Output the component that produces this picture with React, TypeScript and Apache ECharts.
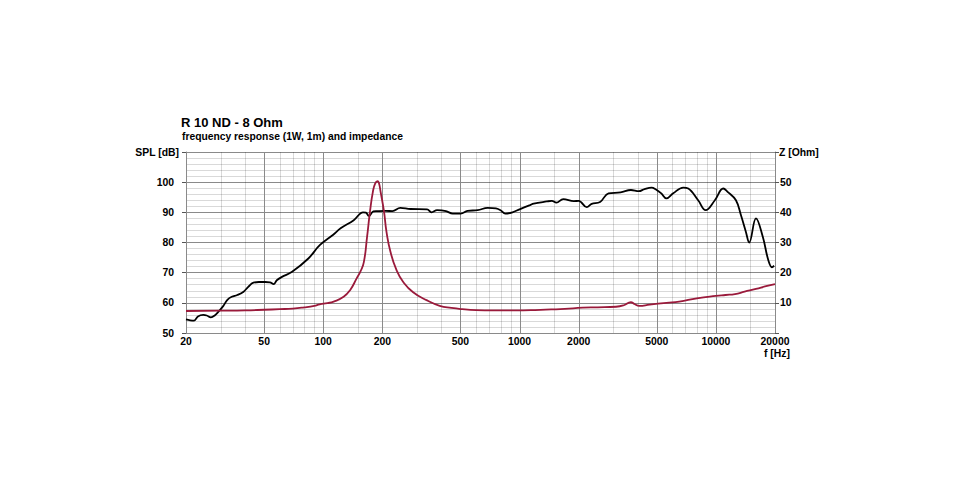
import React, { useEffect, useRef } from 'react';
import * as echarts from 'echarts';

const TITLE = 'R 10 ND - 8 Ohm';
const SUBTITLE = 'frequency response (1W, 1m) and impedance';
const X_NAME = 'f [Hz]';
const SPL_NAME = 'SPL [dB]';
const Z_NAME = 'Z [Ohm]';

// SPL curve (Hz, dB)
const SPL_FREQ = [
  20, 21, 22, 23, 24.5, 25.5, 26.8, 28, 29.2, 31, 32.5, 34.2, 36.5, 39.3, 41.5, 44.1, 47, 50.6, 53.5, 55.9,
  58, 61.6, 69.4, 84, 96, 112, 122.6, 143, 159.5, 165, 171, 180, 188, 208, 225, 247, 278, 338, 356, 380,
  422, 456, 502, 543, 612, 688, 758, 800, 846, 920, 1000, 1130, 1180, 1375, 1460, 1540, 1670, 1890, 2000, 2200,
  2330, 2570, 2840, 3270, 3690, 4050, 4330, 4700, 4950, 5270, 5600, 6060, 6820, 7230, 8120, 8870, 9880, 10900, 11470, 12650,
  13420, 14220, 14780, 16000, 17330, 18480, 19300, 19800,
];
const SPL_DB = [
  54.5, 54.2, 54.1, 55.5, 56.0, 55.8, 55.2, 55.8, 57.0, 59.0, 61.0, 62.0, 62.6, 63.7, 65.3, 66.7, 66.9, 66.9, 66.8, 66.2,
  67.5, 68.6, 70.3, 74.7, 79.1, 82.5, 84.7, 87.4, 90.0, 89.9, 88.8, 90.3, 90.4, 90.5, 90.4, 91.5, 91.1, 91.0, 90.0, 90.7,
  90.4, 89.6, 89.6, 90.5, 90.7, 91.5, 91.3, 90.7, 89.6, 90.0, 91.0, 92.4, 92.9, 93.6, 93.8, 93.2, 94.4, 93.7, 93.8, 91.7,
  92.8, 93.4, 96.3, 96.6, 97.4, 97.0, 97.7, 98.2, 97.6, 96.3, 94.6, 96.3, 98.2, 97.9, 94.0, 90.7, 94.0, 97.9, 96.8, 94.0,
  89.0, 83.5, 80.0, 88.0, 81.9, 74.2, 71.8, 72.3,
];

// Impedance curve (Hz, Ohm)
const IMP_FREQ = [
  20, 30, 40, 50, 60, 70, 80, 90, 96, 105, 113, 127, 137, 148, 155, 161, 167, 173, 179, 184,
  189, 192, 196, 204, 210, 220, 236, 255, 287, 338, 392, 450, 510, 600, 740, 950, 1200, 1450, 1700, 2100,
  2500, 3100, 3400, 3690, 3850, 4070, 4600, 5600, 6500, 8000, 10000, 11200, 12500, 14000, 16000, 18000, 20000,
];
const IMP_OHM = [
  7.3, 7.4, 7.5, 7.7, 7.9, 8.1, 8.5, 9.0, 9.5, 9.9, 10.4, 12.0, 14.2, 18.1, 20.5, 23.5, 31.5, 40.2, 46.8, 49.6,
  50.3, 49.8, 46.8, 40.2, 33.5, 26.9, 20.9, 17.0, 13.5, 10.8, 9.0, 8.3, 7.9, 7.6, 7.5, 7.5, 7.6, 7.8, 8.0, 8.4,
  8.5, 8.7, 9.2, 10.2, 9.6, 9.0, 9.4, 10.0, 10.4, 11.5, 12.3, 12.6, 12.9, 13.7, 14.6, 15.5, 16.2,
];

// grid lines / tick labels on the frequency axis
const FREQ_MAJOR = [50, 100, 200, 500, 1000, 2000, 5000, 10000];
const FREQ_MINOR = [
  30, 40, 60, 70, 80, 90, 150, 300, 400, 600, 700, 800, 900, 1500,
  3000, 4000, 6000, 7000, 8000, 9000, 15000,
];
const FREQ_EDGE_LABELS = [20, 20000];
const SPL_TICKS = [50, 60, 70, 80, 90, 100];
const Z_TICKS = [10, 20, 30, 40, 50];

const FONT = "'Liberation Sans', Arial, sans-serif";
const DARK = '#8a8a8a';
const LIGHT = 'rgba(0,0,0,0.15)';
const RED = '#9a1a3b';

export default function App() {
  const ref = useRef<HTMLDivElement>(null);

  useEffect(() => {
    if (!ref.current) return;
    const chart = echarts.init(ref.current, null, { renderer: 'svg' });

    const gridData: number[][] = [
      ...FREQ_MINOR.map((f) => [f, 0]),
      ...FREQ_MAJOR.map((f) => [f, 1]),
      ...FREQ_EDGE_LABELS.map((f) => [f, 2]),
    ];

    const option: any = {
      animation: false,
      backgroundColor: '#fff',
      grid: { left: 186, right: 185, top: 152, bottom: 147 },
      graphic: [
        {
          type: 'text', x: 181, y: 122,
          style: { text: TITLE, fill: '#000', fontSize: 13, fontWeight: 'bold', fontFamily: FONT, verticalAlign: 'middle' },
        },
        {
          type: 'text', x: 182, y: 136,
          style: { text: SUBTITLE, fill: '#000', fontSize: 10.3, fontWeight: 'bold', fontFamily: FONT, verticalAlign: 'middle' },
        },
        {
          type: 'text', x: 777, y: 353,
          style: { text: X_NAME, fill: '#000', fontSize: 10.4, fontWeight: 'bold', fontFamily: FONT, align: 'center', verticalAlign: 'middle' },
        },
      ],
      xAxis: {
        type: 'log',
        logBase: 10,
        min: 20,
        max: 20000,
        axisLine: { show: true, lineStyle: { color: DARK, width: 1 } },
        axisTick: { show: false },
        axisLabel: { show: false },
        splitLine: { show: false },
      },
      yAxis: [
        {
          type: 'value',
          min: 50,
          max: 110,
          interval: 10,
          name: SPL_NAME,
          nameLocation: 'end',
          nameGap: 0,
          nameTextStyle: {
            color: '#000', fontSize: 10.4, fontWeight: 'bold', fontFamily: FONT,
            align: 'right', verticalAlign: 'middle', padding: [0, 7, 0, 0],
          },
          axisLine: { show: true, lineStyle: { color: DARK } },
          axisTick: { show: true, length: 4, lineStyle: { color: '#555' } },
          axisLabel: {
            margin: 12, color: '#000', fontSize: 10.4, fontWeight: 'bold', fontFamily: FONT,
            formatter: (v: number) => (SPL_TICKS.indexOf(v) >= 0 ? String(v) : ''),
          },
          splitLine: { show: true, lineStyle: { color: DARK, width: 1 } },
          minorTick: { show: false, splitNumber: 5 },
          minorSplitLine: { show: true, lineStyle: { color: '#d9d9d9', width: 1 } },
        },
        {
          type: 'value',
          position: 'right',
          min: 0,
          max: 60,
          interval: 10,
          name: Z_NAME,
          nameLocation: 'end',
          nameGap: 0,
          nameTextStyle: {
            color: '#000', fontSize: 10.4, fontWeight: 'bold', fontFamily: FONT,
            align: 'left', verticalAlign: 'middle', padding: [0, 0, 0, 4],
          },
          axisLine: { show: true, lineStyle: { color: DARK } },
          axisTick: { show: true, length: 4, lineStyle: { color: '#555' } },
          axisLabel: {
            margin: 5, color: '#000', fontSize: 10.4, fontWeight: 'bold', fontFamily: FONT,
            formatter: (v: number) => (Z_TICKS.indexOf(v) >= 0 ? String(v) : ''),
          },
          splitLine: { show: false },
        },
      ],
      series: [
        {
          type: 'custom',
          name: 'freq-grid',
          xAxisIndex: 0,
          yAxisIndex: 0,
          z: 1,
          silent: true,
          clip: false,
          data: gridData,
          renderItem: (params: any, api: any) => {
            const f = api.value(0);
            const kind = api.value(1);
            const p0 = api.coord([f, 50]);
            const p1 = api.coord([f, 110]);
            const x = Math.round(p0[0]) + 0.5;
            const children: any[] = [];
            if (kind !== 2) {
              children.push({
                type: 'line',
                shape: { x1: x, y1: p0[1], x2: x, y2: p1[1] },
                style: { stroke: kind === 1 ? DARK : LIGHT, lineWidth: 1 },
              });
            }
            if (kind >= 1) {
              children.push({
                type: 'text',
                x: p0[0],
                y: p0[1] + 3,
                style: {
                  text: String(f), fill: '#000', fontSize: 10.4, fontWeight: 'bold', fontFamily: FONT,
                  align: 'center', verticalAlign: 'top',
                },
              });
            }
            return { type: 'group', children };
          },
        },
        {
          type: 'line',
          name: 'SPL',
          yAxisIndex: 0,
          z: 3,
          data: SPL_FREQ.map((f, i) => [f, SPL_DB[i]]),
          showSymbol: false,
          smooth: 0.4,
          lineStyle: { color: '#000', width: 1.8 },
          itemStyle: { color: '#000' },
        },
        {
          type: 'line',
          name: 'Z',
          yAxisIndex: 1,
          z: 4,
          data: IMP_FREQ.map((f, i) => [f, IMP_OHM[i]]),
          showSymbol: false,
          smooth: 0.5,
          lineStyle: { color: RED, width: 1.8 },
          itemStyle: { color: RED },
        },
      ],
    };

    chart.setOption(option);
    return () => chart.dispose();
  }, []);

  return (
    <div
      ref={ref}
      style={{ position: 'absolute', left: 0, top: 0, width: 960, height: 480, background: '#fff' }}
    />
  );
}
